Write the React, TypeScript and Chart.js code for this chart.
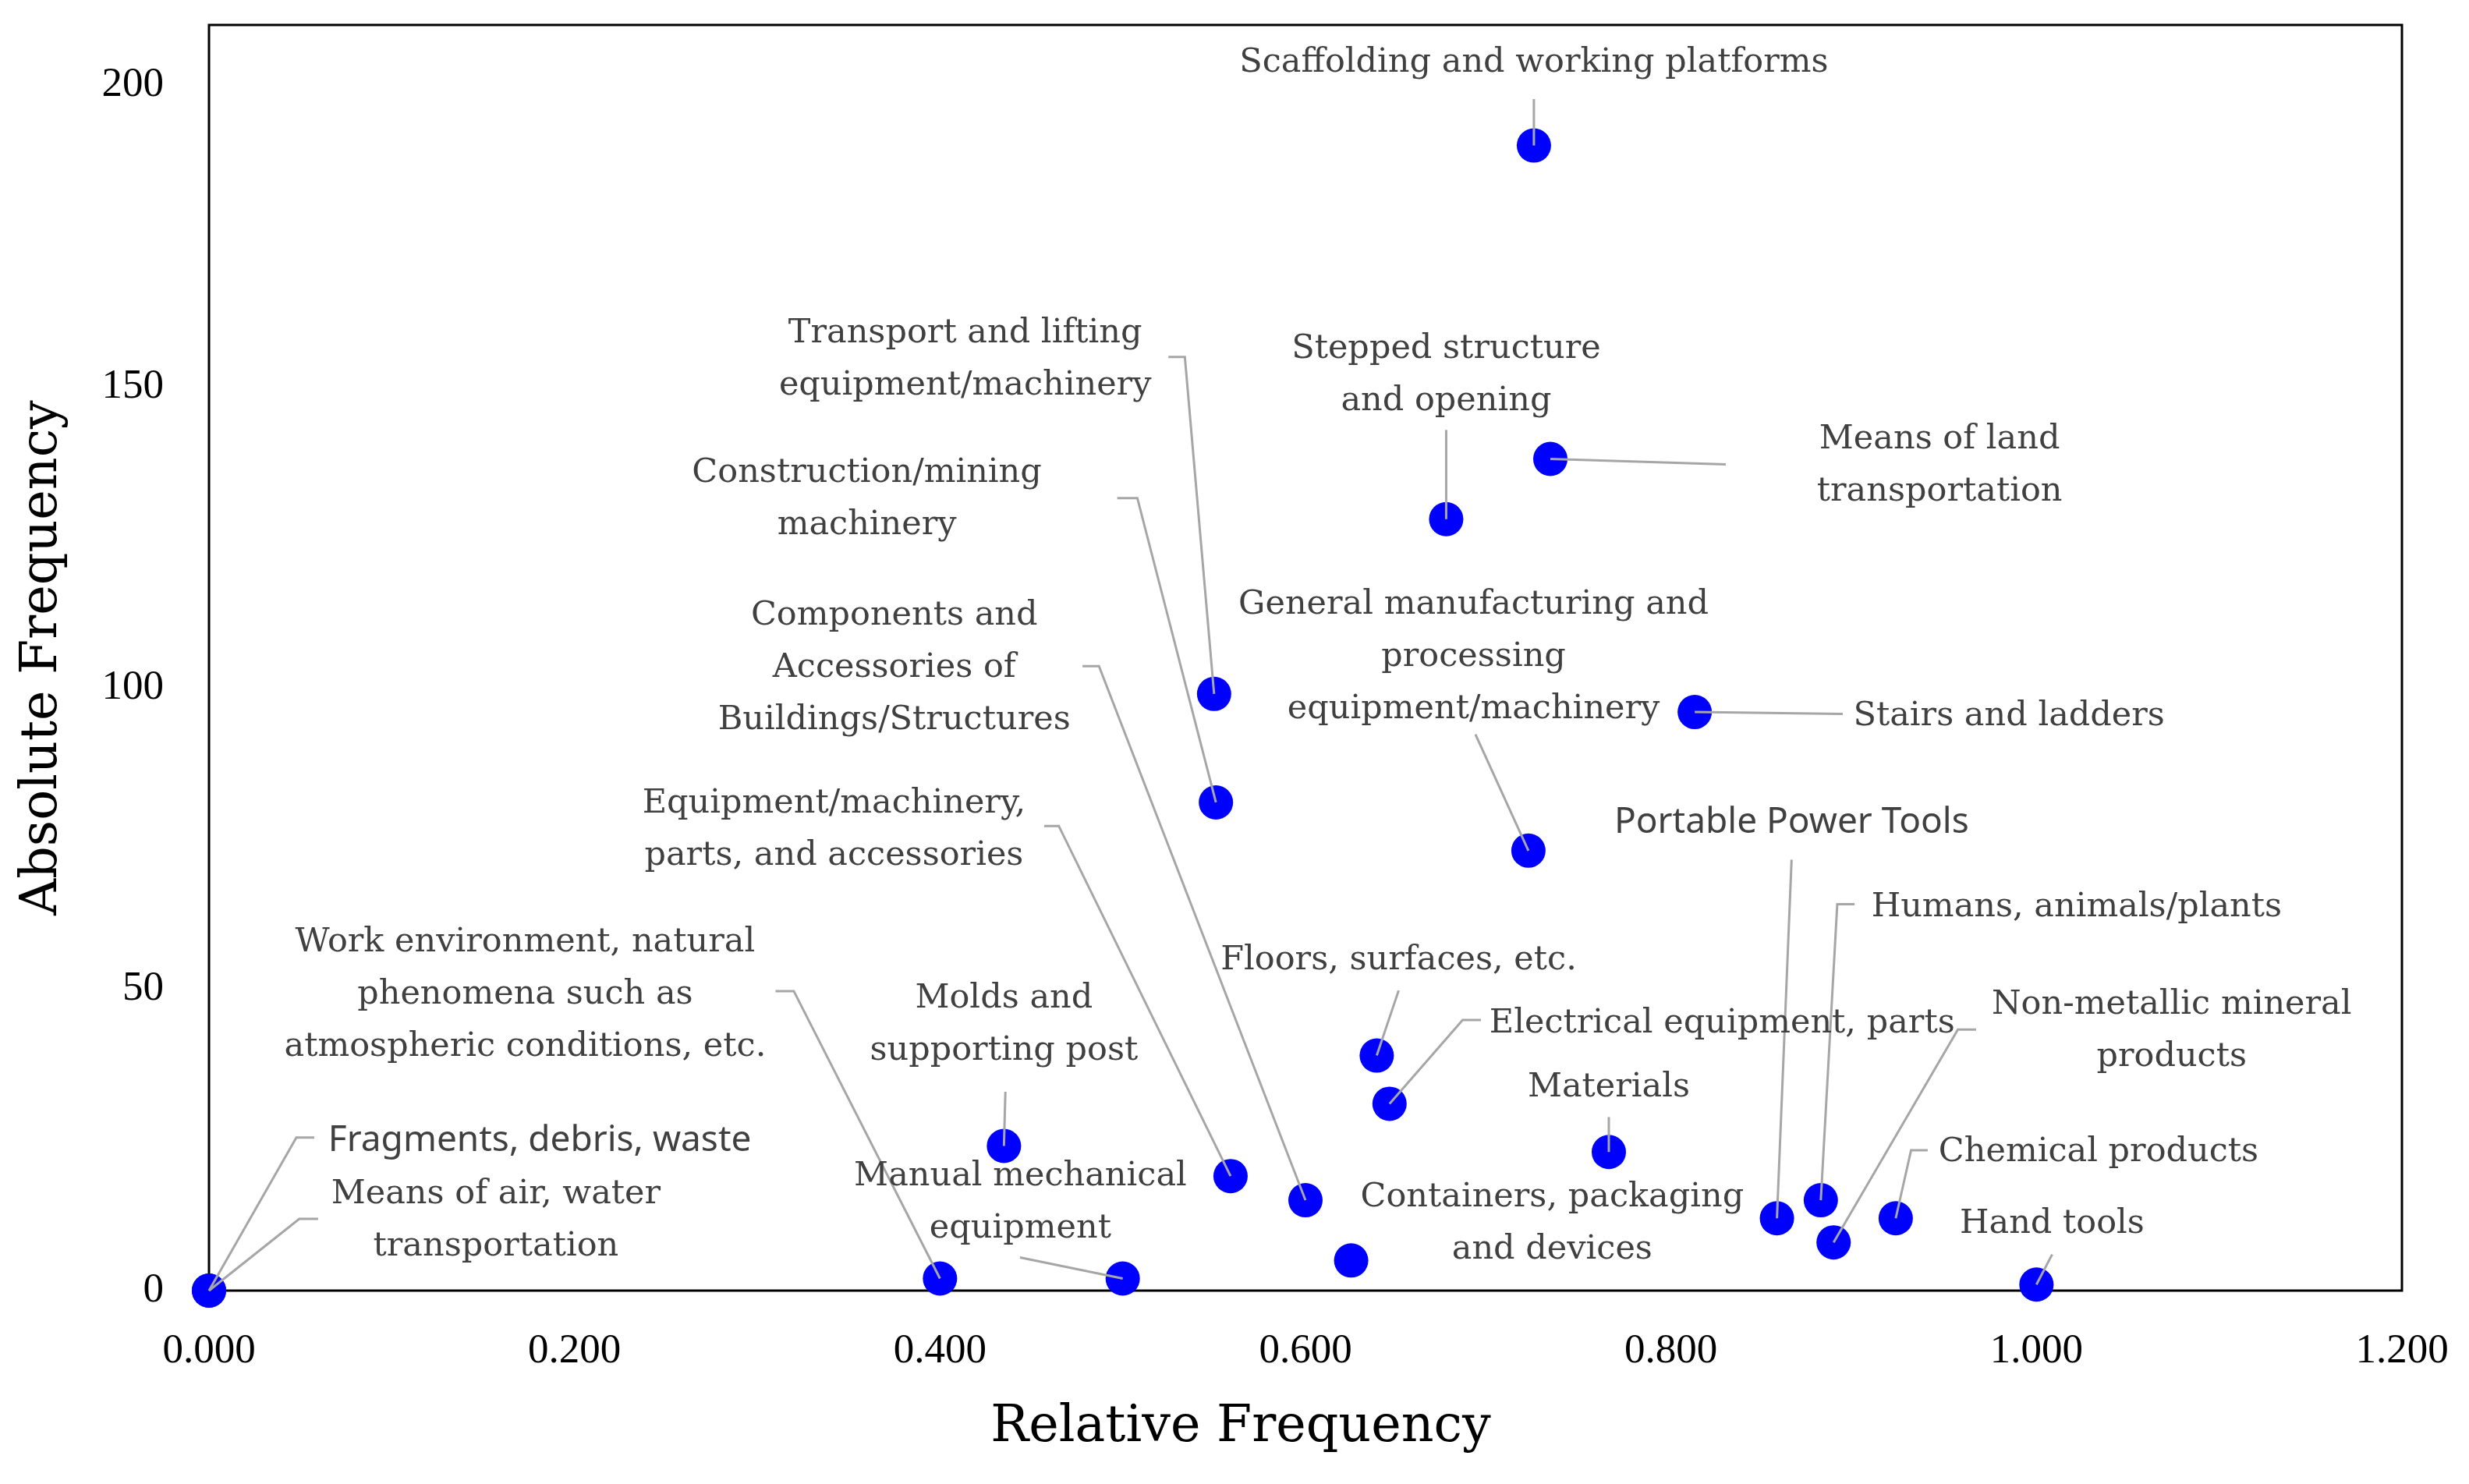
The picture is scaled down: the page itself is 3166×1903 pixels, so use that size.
import React, { useEffect, useRef } from "react";
import { Chart, registerables } from "chart.js";

Chart.register(...registerables);

// ---------------- data ----------------
const categories: string[] = [
  "Scaffolding and working platforms",
  "Means of land\ntransportation",
  "Stepped structure\nand opening",
  "Transport and lifting\nequipment/machinery",
  "Stairs and ladders",
  "Construction/mining\nmachinery",
  "General manufacturing and\nprocessing\nequipment/machinery",
  "Floors, surfaces, etc.",
  "Electrical equipment, parts",
  "Molds and\nsupporting post",
  "Materials",
  "Equipment/machinery,\nparts, and accessories",
  "Components and\nAccessories of\nBuildings/Structures",
  "Humans, animals/plants",
  "Portable Power Tools",
  "Chemical products",
  "Non-metallic mineral\nproducts",
  "Containers, packaging\nand devices",
  "Work environment, natural\nphenomena such as\natmospheric conditions, etc.",
  "Manual mechanical\nequipment",
  "Hand tools",
  "Fragments, debris, waste",
  "Means of air, water\ntransportation",
];

const relativeFrequency: number[] = [
  0.725, 0.734, 0.677, 0.55, 0.813, 0.551, 0.722, 0.639, 0.646, 0.435, 0.766,
  0.559, 0.6, 0.882, 0.858, 0.923, 0.889, 0.625, 0.4, 0.5, 1.0, 0.0, 0.0,
];

const absoluteFrequency: number[] = [
  190, 138, 128, 99, 96, 81, 73, 39, 31, 24, 23, 19, 15, 15, 12, 12, 8, 5, 2,
  2, 1, 0, 0,
];

const xTickValues: number[] = [0, 0.2, 0.4, 0.6, 0.8, 1.0, 1.2];
const yTickValues: number[] = [0, 50, 100, 150, 200];

// ------------- label layout (data units) -------------
type LabelPos = {
  i: number;
  x: number;
  y: number;
  leader: [number, number][];
  sans?: boolean;
};

const labelLayout: LabelPos[] = [
  { i: 0, x: 0.725, y: 203.7, leader: [[0.725, 197.7]] },
  { i: 1, x: 0.947, y: 136.9, leader: [[0.83, 137.1]] },
  { i: 2, x: 0.677, y: 151.9, leader: [[0.677, 142.8]] },
  { i: 3, x: 0.4138, y: 154.5, leader: [[0.525, 154.9], [0.534, 154.9]] },
  { i: 4, x: 0.985, y: 95.2, leader: [[0.894, 95.7]] },
  { i: 5, x: 0.36, y: 131.3, leader: [[0.497, 131.5], [0.508, 131.5]] },
  { i: 6, x: 0.692, y: 105.1, leader: [[0.693, 92.3]] },
  { i: 7, x: 0.651, y: 54.8, leader: [[0.651, 49.8]] },
  { i: 8, x: 0.828, y: 44.3, leader: [[0.696, 44.9], [0.686, 44.9]] },
  { i: 9, x: 0.435, y: 44.1, leader: [[0.4358, 33.0]] },
  { i: 10, x: 0.766, y: 33.6, leader: [[0.766, 28.8]] },
  { i: 11, x: 0.342, y: 76.4, leader: [[0.457, 77.1], [0.465, 77.1]] },
  { i: 12, x: 0.375, y: 103.3, leader: [[0.478, 103.6], [0.487, 103.6]] },
  { i: 13, x: 1.022, y: 63.6, leader: [[0.9005, 64.1], [0.891, 64.1]] },
  { i: 14, x: 0.866, y: 77.7, leader: [[0.866, 71.5]], sans: true },
  { i: 15, x: 1.034, y: 22.9, leader: [[0.9405, 23.3], [0.9314, 23.3]] },
  { i: 16, x: 1.074, y: 43.0, leader: [[0.967, 43.3], [0.957, 43.3]] },
  { i: 17, x: 0.735, y: 11.1, leader: [] },
  { i: 18, x: 0.173, y: 49.0, leader: [[0.31, 49.7], [0.32, 49.7]] },
  { i: 19, x: 0.444, y: 14.6, leader: [[0.4438, 5.5]] },
  { i: 20, x: 1.0086, y: 11.0, leader: [[1.0086, 6.0]] },
  { i: 21, x: 0.181, y: 24.8, leader: [[0.0576, 25.4], [0.0478, 25.4]], sans: true },
  { i: 22, x: 0.157, y: 11.6, leader: [[0.0597, 11.9], [0.0494, 11.9]] },
];

const SERIF = '43px "DejaVu Serif"';
const SANS = '46px "Noto Sans"';
const LINE_H = 67;

const framePlugin = {
  id: "frame",
  beforeDatasetsDraw(chart: any) {
    const { ctx, chartArea } = chart;
    ctx.save();
    ctx.strokeStyle = "#000000";
    ctx.lineWidth = 3;
    ctx.strokeRect(
      chartArea.left,
      chartArea.top,
      chartArea.right - chartArea.left,
      chartArea.bottom - chartArea.top
    );
    ctx.restore();
  },
};

const labelPlugin = {
  id: "pointLabels",
  afterDatasetsDraw(chart: any) {
    const { ctx } = chart;
    const xs = chart.scales.x;
    const ys = chart.scales.y;
    ctx.save();
    labelLayout.forEach((l) => {
      if (!l.leader.length) return;
      const px = xs.getPixelForValue(relativeFrequency[l.i]);
      const py = ys.getPixelForValue(absoluteFrequency[l.i]);
      ctx.beginPath();
      ctx.strokeStyle = "#a6a6a6";
      ctx.lineWidth = 3;
      l.leader.forEach(([lx, ly], k) => {
        const X = xs.getPixelForValue(lx);
        const Y = ys.getPixelForValue(ly);
        if (k === 0) ctx.moveTo(X, Y);
        else ctx.lineTo(X, Y);
      });
      ctx.lineTo(px, py);
      ctx.stroke();
    });
    ctx.fillStyle = "#404040";
    ctx.textAlign = "center";
    ctx.textBaseline = "middle";
    labelLayout.forEach((l) => {
      const lines = categories[l.i].split("\n");
      ctx.font = l.sans ? SANS : SERIF;
      const cx = xs.getPixelForValue(l.x);
      const cy = ys.getPixelForValue(l.y);
      lines.forEach((t, k) => {
        ctx.fillText(t, cx, cy + (k - (lines.length - 1) / 2) * LINE_H);
      });
    });
    ctx.restore();
  },
  afterDraw(chart: any) {
    const { ctx } = chart;
    ctx.save();
    ctx.fillStyle = "#000000";
    ctx.font = '65px "DejaVu Serif"';
    ctx.textAlign = "center";
    ctx.textBaseline = "middle";
    ctx.fillText("Relative Frequency", 1591, 1831);
    ctx.restore();
  },
};

export default function App() {
  const canvasRef = useRef<HTMLCanvasElement | null>(null);

  useEffect(() => {
    document.body.style.margin = "0";
    const canvas = canvasRef.current;
    if (!canvas) return;
    const chart = new Chart(canvas, {
      type: "scatter",
      data: {
        datasets: [
          {
            label: "Frequency",
            data: relativeFrequency.map((x, i) => ({ x, y: absoluteFrequency[i] })),
            backgroundColor: "#0000ff",
            borderColor: "#0000ff",
            borderWidth: 0,
            pointRadius: 22,
            pointHoverRadius: 22,
            clip: false as any,
          },
        ],
      },
      options: {
        animation: false,
        responsive: true,
        maintainAspectRatio: false,
        devicePixelRatio: 1,
        events: [],
        layout: { padding: { top: 32, right: 86, left: 0, bottom: 0 } },
        plugins: {
          legend: { display: false },
          tooltip: { enabled: false },
          title: { display: false },
        },
        scales: {
          x: {
            type: "linear",
            min: 0,
            max: 1.2,
            grid: {
              display: true,
              color: "rgba(0,0,0,0)",
              drawOnChartArea: false,
              drawTicks: true,
              tickLength: 46,
            },
            border: { display: false },
            afterBuildTicks: (s: any) => {
              s.ticks = xTickValues.map((v) => ({ value: v }));
            },
            afterFit: (s: any) => {
              s.height = 248;
            },
            ticks: {
              padding: 0,
              color: "#000000",
              font: { family: '"Liberation Serif"', size: 53 },
              maxRotation: 0,
              callback: (v: any) => Number(v).toFixed(3),
            },
          },
          y: {
            type: "linear",
            min: 0,
            max: 210,
            grid: {
              display: true,
              color: "rgba(0,0,0,0)",
              drawOnChartArea: false,
              drawTicks: true,
              tickLength: 58,
            },
            border: { display: false },
            afterBuildTicks: (s: any) => {
              s.ticks = yTickValues.map((v) => ({ value: v }));
            },
            afterFit: (s: any) => {
              s.width = 268;
            },
            ticks: {
              padding: 0,
              color: "#000000",
              font: { family: '"Liberation Serif"', size: 53 },
              callback: (v: any) => String(v),
            },
            title: {
              display: true,
              text: "Absolute Frequency",
              color: "#000000",
              font: { family: '"DejaVu Serif"', size: 65 },
              padding: { top: 16, bottom: 0 },
            },
          },
        },
      },
      plugins: [framePlugin, labelPlugin],
    });
    return () => chart.destroy();
  }, []);

  return (
    <div style={{ width: "3166px", height: "1903px", position: "relative" }}>
      <canvas ref={canvasRef} />
    </div>
  );
}
